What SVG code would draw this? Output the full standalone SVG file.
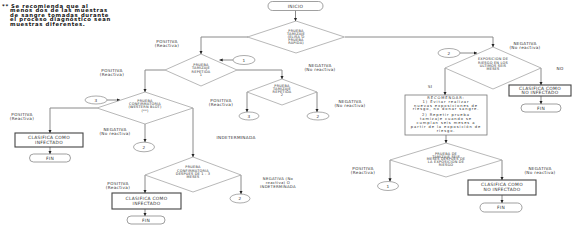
<svg xmlns="http://www.w3.org/2000/svg" width="577" height="225" viewBox="0 0 577 225">
<style>
text{font-family:"DejaVu Sans","Liberation Sans",sans-serif;fill:#333;dominant-baseline:central;text-anchor:middle}
.note{font-size:5.3px;font-weight:bold;fill:#111;letter-spacing:0.65px;text-anchor:start}
.lbl{font-size:4.2px;letter-spacing:0.3px}
.dia{font-size:3.5px;letter-spacing:0.2px}
.box{font-size:4.4px;letter-spacing:0.3px}
.rec{font-size:3.7px;letter-spacing:0.9px}
.d{fill:#fff;stroke:#9a9a9a;stroke-width:0.7}
.b{fill:#fff;stroke:#444;stroke-width:1.1}
.r{fill:#fff;stroke:#777;stroke-width:0.8}
.s{fill:#fff;stroke:#777;stroke-width:0.7}
.c{fill:#fff;stroke:#888;stroke-width:0.7}
.cn path{fill:none;stroke:#8a8a8a;stroke-width:1;marker-end:url(#ah)}
</style>
<defs>
<marker id="ah" markerUnits="userSpaceOnUse" markerWidth="4" markerHeight="4" refX="3.2" refY="2" orient="auto">
<path d="M0,0.4 L3.4,2 L0,3.6 Z" fill="#222"/>
</marker>
</defs>
<rect width="577" height="225" fill="#fff"/>

<g id="note">
<text class="note" x="2" y="5.7">**</text>
<text class="note" x="11" y="5.7">Se recomienda que al</text>
<text class="note" x="10" y="10.2">menos dos de las muestras</text>
<text class="note" x="10" y="14.7">de sangre tomadas durante</text>
<text class="note" x="10" y="19.2">el proceso diagnóstico sean</text>
<text class="note" x="10" y="23.7">muestras diferentes.</text>
</g>

<g class="cn" id="connectors">
<path d="M295.5 10.5 V21"/>
<path d="M248 37 H201 V54"/>
<path d="M345 37 H493 V47"/>
<path d="M233 60 H219.5"/>
<path d="M165 70 H145 V92"/>
<path d="M237 70 H282 V79"/>
<path d="M247 92 V112"/>
<path d="M317 92 V112"/>
<path d="M107 100 H120"/>
<path d="M97 108 H50 V133"/>
<path d="M50 147 V154"/>
<path d="M145 124 V142"/>
<path d="M193 108 V157"/>
<path d="M145 175 V193"/>
<path d="M145 209 V216"/>
<path d="M241 175 V194"/>
<path d="M460 53 H477"/>
<path d="M445 68 V95"/>
<path d="M541 68 V85"/>
<path d="M541 96 V104"/>
<path d="M446 135 V143"/>
<path d="M390 160 V181.5"/>
<path d="M502 160 V180"/>
<path d="M502 195 V203"/>
</g>

<g id="inicio">
<rect class="s" x="268" y="1.5" width="55" height="9" rx="4.5"/>
<text class="box" x="295.5" y="6">INICIO</text>
</g>

<g id="d1">
<polygon class="d" points="296,21 344.5,37 296,53 247.5,37"/>
<text class="dia" x="296" y="31.2">PRUEBA</text>
<text class="dia" x="296" y="34.1">TAMIZAJE</text>
<text class="dia" x="296" y="37">(ELISA O</text>
<text class="dia" x="296" y="39.9">PRUEBA</text>
<text class="dia" x="296" y="42.8">RAPIDA)</text>
</g>

<g id="d2">
<polygon class="d" points="201,54 237,70 201,86 165,70"/>
<text class="dia" x="201" y="65.2">PRUEBA</text>
<text class="dia" x="201" y="68.4">TAMIZAJE</text>
<text class="dia" x="201" y="71.6">REPETIDA</text>
<text class="dia" x="201" y="74.8">1</text>
</g>

<g id="c1a">
<ellipse class="c" cx="244" cy="60" rx="11" ry="4.5"/>
<text class="lbl" x="244" y="60">1</text>
</g>

<g id="d3">
<polygon class="d" points="282,79 317,92 282,105 247,92"/>
<text class="dia" x="282" y="85.8">PRUEBA</text>
<text class="dia" x="282" y="89">TAMIZAJE</text>
<text class="dia" x="282" y="92.2">REPETIDA</text>
<text class="dia" x="282" y="95.4">2</text>
</g>

<g id="c3a">
<ellipse class="c" cx="249" cy="116" rx="10" ry="4"/>
<text class="lbl" x="249" y="116">3</text>
</g>
<g id="c2a">
<ellipse class="c" cx="318" cy="116" rx="11" ry="4"/>
<text class="lbl" x="318" y="116">2</text>
</g>

<g id="d4">
<polygon class="d" points="145,92 193,108 145,124 97,108"/>
<text class="dia" x="145" y="100.8">PRUEBA</text>
<text class="dia" x="145" y="104.1">CONFIRMATORIA</text>
<text class="dia" x="145" y="107.4">(WESTERN BLOT)</text>
<text class="dia" x="145" y="110.7">(**)</text>
</g>

<g id="c3b">
<ellipse class="c" cx="96" cy="100" rx="11" ry="4"/>
<text class="lbl" x="96" y="100">3</text>
</g>

<g id="b1">
<rect class="b" x="15" y="133" width="68" height="14"/>
<text class="box" x="49" y="137.6">CLASIFICA COMO</text>
<text class="box" x="49" y="142.2">INFECTADO</text>
</g>
<g id="fin1">
<rect class="s" x="29.5" y="154" width="41" height="8" rx="4"/>
<text class="box" x="50" y="158">FIN</text>
</g>

<g id="c2b">
<ellipse class="c" cx="144" cy="147" rx="10.5" ry="4.8"/>
<text class="lbl" x="144" y="147">2</text>
</g>

<g id="d5">
<polygon class="d" points="193,157 241,175 193,192 145,175"/>
<text class="dia" x="193" y="167.3">PRUEBA</text>
<text class="dia" x="193" y="170.6">CONFIRMATORIA</text>
<text class="dia" x="193" y="173.9">DESPUES DE 1 - 3</text>
<text class="dia" x="193" y="177.2">MESES</text>
</g>

<g id="b2">
<rect class="b" x="112" y="193" width="69" height="16"/>
<text class="box" x="146.5" y="198.5">CLASIFICA COMO</text>
<text class="box" x="146.5" y="203.5">INFECTADO</text>
</g>
<g id="fin2">
<rect class="s" x="127" y="216" width="38" height="8" rx="4"/>
<text class="box" x="146" y="220">FIN</text>
</g>

<g id="c2c">
<ellipse class="c" cx="240" cy="198.5" rx="10" ry="4.5"/>
<text class="lbl" x="240" y="198.5">2</text>
</g>

<g id="d6">
<polygon class="d" points="493,47 541,68 493,89 445,68"/>
<text class="dia" x="493" y="59.2">EXPOSICION DE</text>
<text class="dia" x="493" y="62.5">RIESGO EN LOS</text>
<text class="dia" x="493" y="65.8">ULTIMOS SEIS</text>
<text class="dia" x="493" y="69.1">MESES</text>
</g>

<g id="c2d">
<ellipse class="c" cx="449" cy="53" rx="11" ry="4.5"/>
<text class="lbl" x="449" y="53">2</text>
</g>

<g id="b3">
<rect class="b" x="509" y="85" width="62" height="11"/>
<text class="box" x="540" y="88.2">CLASIFICA COMO</text>
<text class="box" x="540" y="92.6">NO INFECTADO</text>
</g>
<g id="fin3">
<rect class="s" x="521" y="104" width="40" height="8" rx="4"/>
<text class="box" x="541" y="108">FIN</text>
</g>

<g id="rec">
<rect class="r" x="405" y="95" width="82" height="40"/>
<text class="rec" x="446" y="98">RECOMENDAR:</text>
<text class="rec" x="446" y="101.8">1) Evitar realizar</text>
<text class="rec" x="446" y="105.6">nuevas exposiciones de</text>
<text class="rec" x="446" y="109.4">riesgo, no donar sangre.</text>
<text class="rec" x="446" y="115.4">2) Repetir prueba</text>
<text class="rec" x="446" y="119.2">tamizaje cuando se</text>
<text class="rec" x="446" y="123">cumplan seis meses a</text>
<text class="rec" x="446" y="126.8">partir de la exposición de</text>
<text class="rec" x="446" y="130.6">riesgo.</text>
</g>

<g id="d7">
<polygon class="d" points="446,143 502,160 446,177 390,160"/>
<text class="dia" x="446" y="153.9">PRUEBA DE</text>
<text class="dia" x="446" y="156.6">TAMIZAJE SEIS</text>
<text class="dia" x="446" y="159.3">MESES DESPUES DE</text>
<text class="dia" x="446" y="162">LA EXPOSICION DE</text>
<text class="dia" x="446" y="164.7">RIESGO</text>
</g>

<g id="c1b">
<ellipse class="c" cx="388" cy="186" rx="10.5" ry="4.5"/>
<text class="lbl" x="388" y="186">1</text>
</g>

<g id="b4">
<rect class="b" x="468" y="180" width="68" height="15"/>
<text class="box" x="502" y="184.5">CLASIFICA COMO</text>
<text class="box" x="502" y="189.2">NO INFECTADO</text>
</g>
<g id="fin4">
<rect class="s" x="480" y="203" width="42" height="9" rx="4.5"/>
<text class="box" x="501" y="207.5">FIN</text>
</g>

<g id="labels">
<text class="lbl" x="167" y="41.5">POSITIVA</text>
<text class="lbl" x="167" y="45.7">(Reactiva)</text>
<text class="lbl" x="525" y="43">NEGATIVA</text>
<text class="lbl" x="525" y="47.2">(No reactiva)</text>
<text class="lbl" x="112" y="70">POSITIVA</text>
<text class="lbl" x="112" y="74.2">(Reactiva)</text>
<text class="lbl" x="320" y="65">NEGATIVA</text>
<text class="lbl" x="320" y="69.2">(No reactiva)</text>
<text class="lbl" x="221" y="100">POSITIVA</text>
<text class="lbl" x="221" y="104.2">(Reactiva)</text>
<text class="lbl" x="350" y="101">NEGATIVA</text>
<text class="lbl" x="350" y="105.2">(No reactiva)</text>
<text class="lbl" x="22" y="114">POSITIVA</text>
<text class="lbl" x="22" y="118.2">(Reactiva)</text>
<text class="lbl" x="115" y="129">NEGATIVA</text>
<text class="lbl" x="115" y="133.2">(No reactiva)</text>
<text class="lbl" x="236" y="137">INDETERMINADA</text>
<text class="lbl" x="118" y="183">POSITIVA</text>
<text class="lbl" x="118" y="187.2">(Reactiva)</text>
<text class="lbl" x="278" y="178" style="font-size:3.8px">NEGATIVA (No</text>
<text class="lbl" x="278" y="182" style="font-size:3.8px">reactiva) O</text>
<text class="lbl" x="278" y="186" style="font-size:3.8px">INDETERMINADA</text>
<text class="lbl" x="430" y="86">SI</text>
<text class="lbl" x="560" y="68">NO</text>
<text class="lbl" x="363" y="168">POSITIVA</text>
<text class="lbl" x="363" y="172.2">(Reactiva)</text>
<text class="lbl" x="540" y="168">NEGATIVA</text>
<text class="lbl" x="540" y="172.2">(No reactiva)</text>
</g>
</svg>
